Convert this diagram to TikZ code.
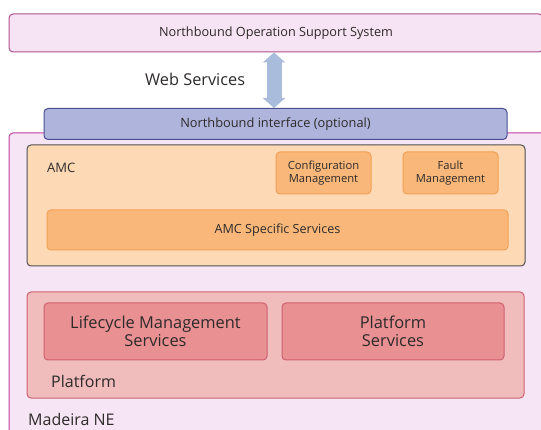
\documentclass[tikz,border=0pt]{standalone}
\usepackage{fontspec}
\setmainfont{Open Sans}
\usetikzlibrary{arrows.meta,calc}
\definecolor{osspink}{HTML}{F6E3F3}
\definecolor{ossedge}{HTML}{B0508F}
\definecolor{nepink}{HTML}{F5E5F5}
\definecolor{needge}{HTML}{C040A0}
\definecolor{nbifill}{HTML}{AEB4DC}
\definecolor{nbiedge}{HTML}{4A4F90}
\definecolor{arrowblue}{HTML}{A9BCDC}
\definecolor{amcfill}{HTML}{FDD9B5}
\definecolor{amcedge}{HTML}{505050}
\definecolor{orfill}{HTML}{F9B87A}
\definecolor{oredge}{HTML}{F2A055}
\definecolor{platfill}{HTML}{F0BCBC}
\definecolor{platedge}{HTML}{D06070}
\definecolor{redfill}{HTML}{E89092}
\definecolor{txt}{HTML}{2E2A2A}
\tikzset{
  box/.style={rounded corners=4pt, line width=1pt, inner sep=0pt, align=center, text=txt},
  lbl/.style={anchor=west, inner sep=0pt, text=txt},
}
\begin{document}
\begin{tikzpicture}[x=1pt,y=-1pt]
\useasboundingbox (0,0) rectangle (541,430);
\clip (0,0) rectangle (541,430);
% Northbound OSS
\node[box, fill=osspink, draw=ossedge, minimum width=534pt, minimum height=38pt, font=\fontsize{12.7}{14}\selectfont] (oss) at (276,33) {Northbound Operation Support System};
% Madeira NE
\node[box, fill=nepink, draw=needge, minimum width=551pt, minimum height=317pt] (ne) at (284.5,291.5) {};
\node[lbl, font=\fontsize{16}{18}\selectfont] (nelbl) at (28,419) {Madeira NE};
% Northbound interface
\node[box, fill=nbifill, draw=nbiedge, minimum width=463pt, minimum height=31pt, font=\fontsize{12.8}{14}\selectfont] (nbi) at (275.5,124) {Northbound interface (optional)};
% arrow
\coordinate (ax) at (274,0);
\draw[arrowblue, line width=15pt, {Triangle[width=22pt,length=10pt]}-{Triangle[width=22pt,length=10pt]}] (oss.south -| ax) -- (nbi.north -| ax);
\node[lbl, font=\fontsize{16.3}{18}\selectfont] (ws) at (145,79) {Web Services};
% AMC
\node[box, fill=amcfill, draw=amcedge, minimum width=498pt, minimum height=121pt] (amc) at (276,205.5) {};
\node[lbl, font=\fontsize{13}{15}\selectfont] (amclbl) at (47,168) {AMC};
\node[box, fill=orfill, draw=oredge, minimum width=95pt, minimum height=42pt, font=\fontsize{11.2}{12.5}\selectfont] (cfg) at (323.5,173) {Configuration\\Management};
\node[box, fill=orfill, draw=oredge, minimum width=95pt, minimum height=42pt, font=\fontsize{11.2}{12.5}\selectfont] (flt) at (450.5,173) {Fault\\Management};
\node[box, fill=orfill, draw=oredge, minimum width=461pt, minimum height=40pt, font=\fontsize{12.6}{14}\selectfont] (amcs) at (277.5,230) {AMC Specific Services};
% Platform
\node[box, fill=platfill, draw=platedge, minimum width=497pt, minimum height=106pt] (plat) at (275.5,345) {};
\node[lbl, font=\fontsize{16}{18}\selectfont] (platlbl) at (51,381) {Platform};
\node[box, fill=redfill, draw=platedge, minimum width=223pt, minimum height=57pt, font=\fontsize{16.4}{17.5}\selectfont] (lcm) at (155.5,331.5) {Lifecycle Management\\Services};
\node[box, fill=redfill, draw=platedge, minimum width=222pt, minimum height=57pt, font=\fontsize{16.4}{17.5}\selectfont] (ps) at (393,331.5) {Platform\\Services};
\end{tikzpicture}
\end{document}
